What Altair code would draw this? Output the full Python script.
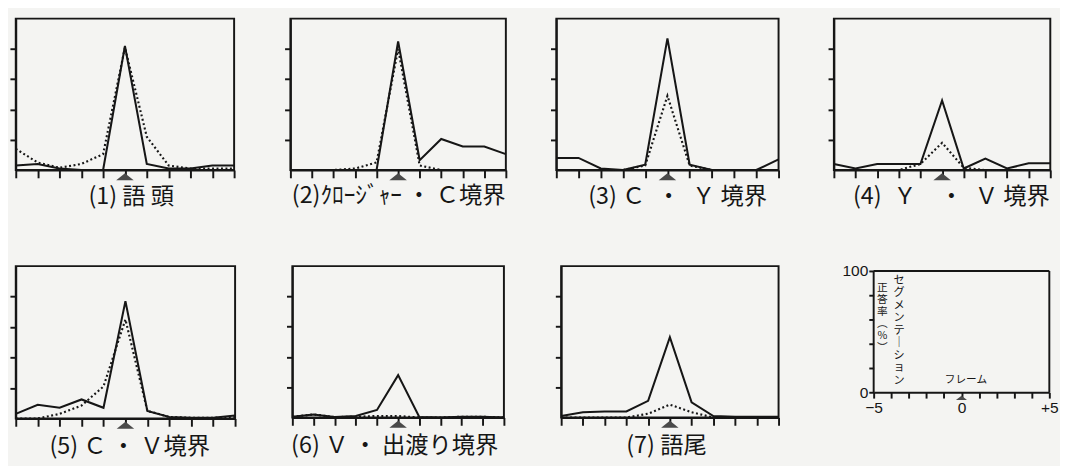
import altair as alt
import pandas as pd

# ---------------- data ----------------
FRAMES = [-5, -4, -3, -2, -1, 0, 1, 2, 3, 4, 5]

CAPTIONS = [
    "(1) 語 頭",
    "(2)ｸﾛｰｼﾞｬｰ ・ Ｃ境界",
    "(3) Ｃ\u2002・\u2002Ｙ 境界",
    "(4)\u2002Ｙ\u2003・\u2002Ｖ 境界",
    "(5) Ｃ ・ Ｖ境界",
    "(6) Ｖ ・ 出渡り境界",
    "(7) 語尾",
]

SOLID_1 = [3, 4, 1, 0, 0, 82, 4, 1, 1, 3, 3]
DOTTED_1 = [14, 5, 1.5, 4, 10.5, 81, 22, 3, 1, 1, 1]
SOLID_2 = [0, 0, 0, 0, 0, 85, 6.5, 20.5, 15.5, 15.5, 10.5]
DOTTED_2 = [0, 0, 0, 1, 5, 80, 3, 0, 0, 0, 0]
SOLID_3 = [8, 8, 1, 0, 3.5, 87, 3.5, 0, 0, 0, 7]
DOTTED_3 = [0, 0, 0, 0, 3, 49, 3, 0, 0, 0, 0]
SOLID_4 = [4, 1, 4, 4, 4, 46, 1, 7.5, 1, 4.5, 4.5]
DOTTED_4 = [0, 0, 0, 0, 4, 18, 1.5, 0, 0, 0, 0]
SOLID_5 = [3, 9, 7, 12.5, 7, 77, 5, 1, 0.5, 0.5, 2]
DOTTED_5 = [0, 0, 3, 8.5, 21, 65, 5, 1, 0.5, 0.5, 1]
SOLID_6 = [0.5, 2, 0.3, 1, 5, 28, 0.3, 0, 0.5, 0.5, 0]
DOTTED_6 = [0.5, 2, 0.3, 0.5, 1, 1, 0, 0, 0.5, 0.5, 0]
SOLID_7 = [1, 3.5, 4, 4, 11, 53, 10, 1, 0.5, 0.5, 0.5]
DOTTED_7 = [0, 0, 0, 0, 2.5, 8.5, 3.5, 0, 0, 0, 0]

Y_TICKS = [20, 40, 60, 80]
LEGEND_Y_TICKS = [0, 20, 40, 60, 80, 100]
LEGEND_TITLE_1 = "セ\nグ\nメ\nン\nテ\n｜\nシ\nョ\nン"
LEGEND_TITLE_2 = "正\n答\n率\n︵\n%\n︶"
LEGEND_X_LABEL = "フレーム"

# ---------------- style ----------------
INK = "#161616"
GRAY = "#4a4a4a"
BG = "#f4f4f2"
CJK = "Noto Sans CJK JP"
SANS = "Liberation Sans"
TRI = "M-1,0.4L1,0.4L0,-0.4Z"


def panel(solid, dotted, caption, w, h, title_pad, title_shift=0):
    df = pd.DataFrame({"frame": FRAMES, "solid": solid, "dotted": dotted})
    xs = alt.Scale(domain=[-5, 5], nice=False, zero=False)
    ys = alt.Scale(domain=[0, 100], nice=False)
    xax = alt.Axis(values=FRAMES, labels=False, tickSize=8, tickWidth=2,
                   tickColor=INK, domainColor=INK, domainWidth=2, grid=False,
                   title=caption, titleFont=CJK, titleFontSize=24,
                   titleFontWeight="normal", titleColor=INK,
                   titlePadding=title_pad, titleX=w / 2 + title_shift,
                   titleAlign="center")
    yax = alt.Axis(values=Y_TICKS, labels=False, tickSize=6, tickWidth=2,
                   tickColor=INK, domainColor=INK, domainWidth=2, grid=False,
                   title=None)
    base = alt.Chart(df)
    dot = base.mark_line(color=INK, strokeWidth=2.2, strokeDash=[2, 2.6]).encode(
        x=alt.X("frame:Q", scale=xs, axis=xax),
        y=alt.Y("dotted:Q", scale=ys, axis=yax),
    )
    sol = base.mark_line(color=INK, strokeWidth=2.1).encode(
        x=alt.X("frame:Q", scale=xs, axis=xax),
        y=alt.Y("solid:Q", scale=ys, axis=yax),
    )
    tri = alt.Chart(pd.DataFrame({"frame": [0]})).mark_point(
        shape=TRI, filled=True, color=GRAY, opacity=1, size=324
    ).encode(
        x=alt.X(datum=0, scale=xs, axis=xax),
        y=alt.Y(datum=-4.5, scale=ys, axis=yax),
    )
    return alt.layer(dot, sol, tri).properties(width=w, height=h)


def legend_panel(w, h):
    # the y range reaches a little above 100 so that the box sits a few
    # pixels lower than its neighbours, as in the original figure
    xs = alt.Scale(domain=[-5, 5], nice=False, zero=False)
    ys = alt.Scale(domain=[0, 104], nice=False)
    xax = alt.Axis(values=FRAMES, tickSize=6, tickWidth=2, tickColor=INK,
                   domainColor=INK, domainWidth=2, grid=False, title=None,
                   labelExpr="datum.value == 5 ? '+5' : ((datum.value == -5 || datum.value == 0) ? datum.label : '')",
                   labelFlush=False, labelFont=SANS, labelFontSize=16,
                   labelColor=INK, labelPadding=2)
    yax = alt.Axis(values=LEGEND_Y_TICKS, tickSize=5, tickWidth=2, tickColor=INK,
                   domain=False, grid=False, title=None,
                   labelExpr="(datum.value == 0 || datum.value == 100) ? datum.label : ''",
                   labelFlush=False, labelFont=SANS, labelFontSize=16,
                   labelColor=INK, labelPadding=1)
    one = pd.DataFrame({"frame": [0]})
    box_top = alt.Chart(one).mark_rule(color=INK, strokeWidth=2).encode(
        x=alt.X(datum=-5, scale=xs, axis=xax), x2=alt.X2(datum=5),
        y=alt.Y(datum=100, scale=ys, axis=yax),
    )
    box_left = alt.Chart(one).mark_rule(color=INK, strokeWidth=2).encode(
        x=alt.X(datum=-5, scale=xs, axis=xax),
        y=alt.Y(datum=0, scale=ys, axis=yax), y2=alt.Y2(datum=100),
    )
    box_right = alt.Chart(one).mark_rule(color=INK, strokeWidth=2).encode(
        x=alt.X(datum=5, scale=xs, axis=xax),
        y=alt.Y(datum=0, scale=ys, axis=yax), y2=alt.Y2(datum=100),
    )
    tri = alt.Chart(one).mark_point(
        shape=TRI, filled=True, color=GRAY, opacity=1, size=130
    ).encode(
        x=alt.X(datum=0, scale=xs, axis=xax),
        y=alt.Y(datum=-4.6, scale=ys, axis=yax),
    )
    t1 = alt.Chart(one).mark_text(
        font=CJK, fontSize=11.5, lineBreak="\n", lineHeight=12.9,
        baseline="top", align="center", color=INK
    ).encode(
        x=alt.X(datum=-3.55, scale=xs, axis=xax),
        y=alt.Y(datum=96.8, scale=ys, axis=yax),
        text=alt.value(LEGEND_TITLE_1),
    )
    t2 = alt.Chart(one).mark_text(
        font=CJK, fontSize=11, lineBreak="\n", lineHeight=12.2,
        baseline="top", align="center", color=INK
    ).encode(
        x=alt.X(datum=-4.5, scale=xs, axis=xax),
        y=alt.Y(datum=90.4, scale=ys, axis=yax),
        text=alt.value(LEGEND_TITLE_2),
    )
    t3 = alt.Chart(one).mark_text(
        font=CJK, fontSize=11, baseline="middle", align="center", color=INK
    ).encode(
        x=alt.X(datum=0.25, scale=xs, axis=xax),
        y=alt.Y(datum=10.4, scale=ys, axis=yax),
        text=alt.value(LEGEND_X_LABEL),
    )
    return alt.layer(box_top, box_left, box_right, tri, t1, t2, t3).properties(
        width=w, height=h, view=alt.ViewBackground(stroke="transparent")
    )


p1 = panel(SOLID_1, DOTTED_1, CAPTIONS[0], 225, 156, 7, 6)
p2 = panel(SOLID_2, DOTTED_2, CAPTIONS[1], 222, 156, 5)
p3 = panel(SOLID_3, DOTTED_3, CAPTIONS[2], 229, 156, 6, 10)
p4 = panel(SOLID_4, DOTTED_4, CAPTIONS[3], 223, 156, 7, 9)
p5 = panel(SOLID_5, DOTTED_5, CAPTIONS[4], 226, 157, 8, 4)
p6 = panel(SOLID_6, DOTTED_6, CAPTIONS[5], 218, 156, 8, -4)
p7 = panel(SOLID_7, DOTTED_7, CAPTIONS[6], 224, 156, 8, -4)
leg = legend_panel(181, 130)

row1 = alt.hconcat(
    alt.hconcat(p1, p2, spacing=44),
    alt.hconcat(p3, p4, spacing=43),
    spacing=38,
)
row2 = alt.hconcat(
    alt.hconcat(p5, p6, p7, spacing=45),
    leg,
    spacing=58,
)

chart = alt.vconcat(row1, row2, spacing=53).properties(
    padding={"left": 0, "top": 3, "right": 0, "bottom": 0},
    background=BG,
).configure_view(stroke=INK, strokeWidth=2)

chart.save("out.html", embed_options={"renderer": "svg", "actions": False})
